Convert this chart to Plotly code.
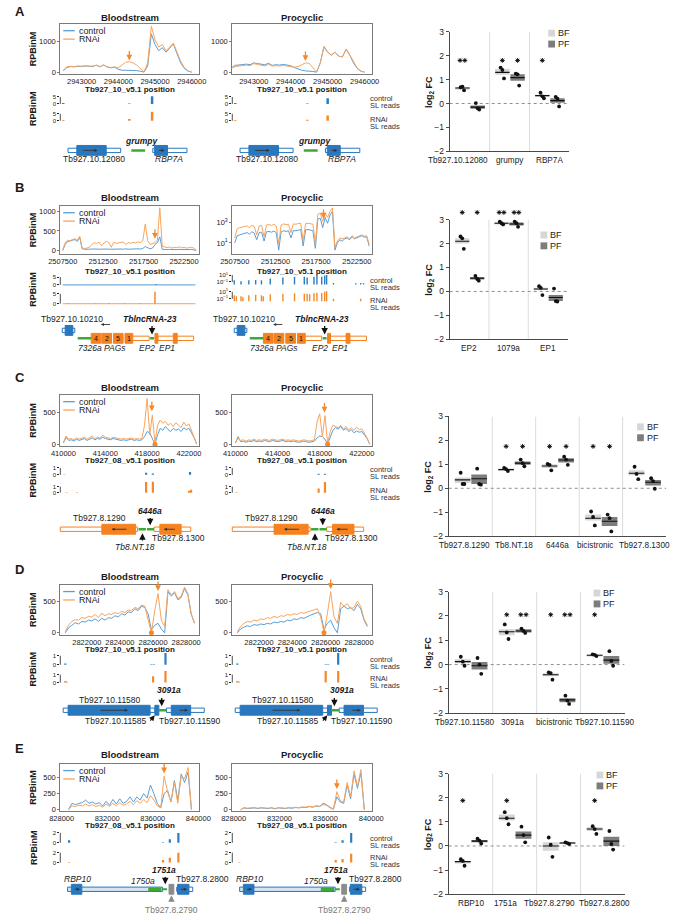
import plotly.graph_objects as go

W, H = 680, 920
FONT = "Arial, 'Liberation Sans', Helvetica, sans-serif"

C_LINE = "#5a9ed6"
O_LINE = "#f9a45c"
C_BAR = "#2b7cc0"
O_BAR = "#f5882a"
GENE_COL = {"b": "#2977bd", "o": "#f5821f", "g": "#8c8c8c"}
GREEN = "#3aa935"
BOXC = "#7a7a7a"
AXC = "#4a4a4a"
BF_COL = "#d6d6d6"
PF_COL = "#7d7d7d"
TXT = "#1a1a1a"

# ============================ DATA ============================
# ---------------- Panel A : grumpy locus ----------------
A_xticks = [2943000, 2944000, 2945000, 2946000]
A_yticks = [0, 1000]
A_BF_start, A_BF_step = 2942500, 100
A_BF_ctrl = [40, 150, 180, 170, 190, 180, 200, 190, 180, 230, 170, 240, 160, 140, 160, 90, 60, 60, 60, 50,
             50, 30, 0, 200, 1250, 900, 700, 800, 650, 780, 920, 600, 300, 120, 30, 0]
A_BF_rnai = [60, 170, 190, 180, 200, 190, 210, 190, 200, 220, 180, 230, 170, 150, 170, 140, 230, 320, 340, 300,
             230, 120, 10, 300, 1500, 1050, 820, 900, 700, 820, 950, 650, 350, 150, 40, 0]
A_PF_start, A_PF_step = 2942300, 100
A_PF_ctrl = [30, 150, 220, 230, 250, 260, 240, 300, 280, 260, 240, 290, 220, 240, 230, 250, 240, 210, 150, 100,
             60, 40, 40, 20, 0, 300, 820, 650, 550, 650, 520, 500, 740, 550, 300, 120, 30, 0]
A_PF_rnai = [40, 130, 180, 200, 210, 230, 210, 280, 250, 220, 200, 250, 200, 210, 200, 220, 200, 190, 160, 180,
             250, 300, 290, 150, 0, 300, 850, 660, 560, 660, 520, 500, 760, 560, 320, 130, 30, 0]
A_arrow_BF = (2944300, 380)
A_arrow_PF = (2944400, 360)
A_SL_BF_ctrl_x = [2942500, 2944300, 2944920]
A_SL_BF_ctrl_y = [0.6, 0.3, 5.5]
A_SL_BF_rnai_x = [2942500, 2944300, 2944920]
A_SL_BF_rnai_y = [0.6, 1.2, 6.5]
A_SL_PF_ctrl_x = [2942500, 2944450, 2945000]
A_SL_PF_ctrl_y = [0.6, 0.3, 4.0]
A_SL_PF_rnai_x = [2942500, 2944450, 2945000]
A_SL_PF_rnai_y = [0.5, 0.8, 3.8]
A_gene_boxes = [("utr", 2942630, 2944065, 0, "b"), ("cds", 2942870, 2943670, 0, "b"),
                ("utr", 2944940, 2945870, 0, "b"), ("cds", 2944990, 2945340, 0, "b")]
A_gene_nc = [(2944355, 2944730, 0, 2.5)]
A_gene_dirs = [(2943000, 2943430, 0), (2945070, 2945260, 0)]
A_gene_labels = [("Tb927.10.12080", 2943350, -9, "n"), ("RBP7A", 2945390, -9, "i"), ("grumpy", 2944640, 10, "bi")]
A_gene_pointers = []
A_cats = ["Tb927.10.12080", "grumpy", "RBP7A"]
A_BF_med = [0.65, 1.30, 0.33]
A_BF_lo = [0.61, 1.20, 0.30]
A_BF_hi = [0.69, 1.45, 0.37]
A_BF_pts = [[0.68, 0.70, 0.55], [1.50, 1.40, 1.05], [0.45, 0.30, 0.22]]
A_PF_med = [-0.15, 1.08, 0.12]
A_PF_lo = [-0.22, 0.95, 0.03]
A_PF_hi = [-0.08, 1.22, 0.22]
A_PF_pts = [[0.02, -0.20, -0.25], [1.25, 1.22, 0.75], [0.28, 0.20, -0.12]]
A_BF_sig = ["**", "*", "*"]
A_PF_sig = ["", "*", ""]
A_sig_y = 1.8

# ---------------- Panel B : TblncRNA-23 / EP locus ----------------
B_xticks = [2507500, 2512500, 2517500, 2522500]
B_yticks_BF = [0, 500, 1000]
B_yticks_PF = [10, 1000]
B_yticktext_PF = ["10<sup>1</sup>", "10<sup>3</sup>"]
B_start, B_step = 2507500, 300
B_BF_ctrl = [0, 150, 230, 240, 260, 280, 230, 340, 40, 30, 25, 30, 35, 30, 40, 30, 30, 35, 40, 30,
             30, 35, 30, 30, 35, 30, 40, 30, 35, 30, 30, 40, 35, 50, 100, 80, 40, 60, 150, 200,
             350, 30, 20, 20, 25, 20, 30, 20, 25, 20, 25, 20, 20, 25, 20, 0]
B_BF_rnai = [0, 200, 260, 250, 280, 300, 260, 360, 60, 50, 60, 80, 150, 200, 180, 210, 120, 190, 230, 200,
             80, 210, 180, 190, 200, 220, 150, 200, 180, 210, 190, 220, 200, 250, 680, 250, 150, 180, 200, 260,
             1100, 110, 80, 70, 90, 60, 80, 70, 90, 70, 80, 60, 70, 80, 60, 0]
B_PF_ctrl = [10, 50, 60, 70, 80, 100, 70, 120, 90, 20, 100, 110, 15, 120, 130, 110, 140, 100, 2, 120,
             150, 130, 150, 30, 160, 150, 170, 200, 5, 180, 200, 160, 150, 3, 2000, 2500, 300, 3000, 800, 5000,
             12000, 2, 10, 20, 15, 25, 30, 20, 40, 25, 30, 40, 50, 35, 40, 5]
B_PF_rnai = [30, 250, 300, 350, 400, 450, 300, 500, 400, 60, 450, 500, 40, 550, 600, 500, 650, 450, 8, 550,
             700, 600, 650, 100, 700, 650, 750, 800, 15, 750, 800, 700, 650, 8, 6000, 8000, 1200, 7000, 3000, 12000,
             25000, 4, 15, 30, 25, 30, 40, 25, 50, 30, 40, 50, 60, 45, 50, 8]
B_arrow_BF = (2518900, 300)
B_arrow_PF = (2518400, 3.35)   # log10 units (log axis)
B_SL_BF_span = [2507500, 2523900]
B_SL_BF_ctrl_x = [2519000]
B_SL_BF_ctrl_y = [0.4]
B_SL_BF_rnai_x = [2508200, 2511600, 2513200, 2515200, 2517000, 2518900]
B_SL_BF_rnai_y = [0.4, 0.3, 0.4, 0.3, 0.4, 6.0]
B_SL_PF_ctrl_x = [2507440, 2508270, 2509230, 2510070, 2510780, 2511860, 2513410, 2514840, 2516040, 2516390,
                  2517230, 2517590, 2518180, 2518540, 2518780, 2519620, 2522360, 2522960, 2523320]
B_SL_PF_ctrl_y = [0.3, 0.15, 0.3, 0.4, 0.3, 1, 2, 3, 3, 2, 3, 5, 3, 8, 10, 0.05, 0.04, 0.05, 0.04]
B_SL_PF_rnai_x = [2507440, 2507700, 2508270, 2508500, 2509230, 2510070, 2510780, 2511000, 2511860, 2513410,
                  2514840, 2516040, 2516390, 2516700, 2517230, 2517590, 2518180, 2518540, 2518780, 2519620, 2522960]
B_SL_PF_rnai_y = [1, 0.5, 0.5, 0.3, 1, 1.5, 1, 0.5, 2, 3, 4, 3, 3, 2, 4, 6, 5, 10, 15, 0.1, 0.1]
B_gene_boxes = [("utr", 2507440, 2508990, 8, "b"), ("cds", 2507800, 2508750, 8, "b"),
                ("cds", 2511020, 2512210, 0, "o"), ("cds", 2512330, 2513530, 0, "o"),
                ("cds", 2513770, 2514960, 0, "o"), ("cds", 2515200, 2516160, 0, "o"),
                ("utr", 2516160, 2518180, 0, "o"), ("utr", 2519260, 2523680, 0, "o"),
                ("cds", 2518900, 2519260, 0, "o"), ("cds", 2521170, 2521650, 0, "o")]
B_gene_nc = [(2509350, 2511020, 0, 2.5), (2518300, 2518780, 0, 2.5)]
B_gene_dirs = [(2513530, 2512210, 14)]
B_gene_labels = [("Tb927.10.10210", 2508690, 20, "n"), ("TblncRNA-23", 2518250, 20, "bi"),
                 ("7326a", 2510900, -10, "i"), ("PAGs", 2513900, -10, "i"), ("EP2", 2517950, -10, "i"),
                 ("EP1", 2520450, -10, "i"), ("4", 2511615, 0, "s"), ("2", 2512930, 0, "s"),
                 ("5", 2514365, 0, "s"), ("1", 2515680, 0, "s")]
B_gene_pointers = [(2518540, 14, 4, "k")]
B_cats = ["EP2", "1079a", "EP1"]
B_BF_med = [2.10, 2.85, 0.10]
B_BF_lo = [2.00, 2.80, 0.05]
B_BF_hi = [2.22, 2.90, 0.15]
B_BF_pts = [[2.30, 2.22, 1.78], [2.92, 2.85, 2.80], [0.22, 0.15, -0.15]]
B_PF_med = [0.55, 2.82, -0.25]
B_PF_lo = [0.50, 2.75, -0.40]
B_PF_hi = [0.60, 2.88, -0.15]
B_PF_pts = [[0.65, 0.52, 0.45], [2.92, 2.85, 2.70], [0.12, -0.40, -0.42]]
B_BF_sig = ["*", "**", ""]
B_PF_sig = ["*", "**", ""]
B_sig_y = 3.3

# ---------------- Panel C : 6446a locus ----------------
C_xticks = [410000, 414000, 418000, 422000]
C_yticks = [0, 500]
C_start, C_step = 410000, 250
C_BF_ctrl = [20, 110, 60, 70, 50, 80, 60, 70, 90, 60, 80, 100, 70, 90, 80, 110, 90, 80, 70, 90,
             80, 70, 60, 70, 60, 70, 80, 60, 70, 60, 70,
             120, 200, 180, 100, 0, 150, 250, 220, 280, 230, 200, 250, 220, 240, 200, 260, 230, 250, 180, 100, 0]
C_BF_rnai = [30, 130, 80, 90, 70, 100, 80, 90, 110, 80, 100, 130, 90, 110, 100, 140, 110, 100, 90, 110,
             100, 90, 80, 90, 80, 90, 100, 80, 90, 80, 90,
             300, 720, 150, 460, 20, 300, 380, 330, 360, 300, 330, 280, 340, 300, 260, 350, 290, 320, 220, 120, 0]
C_PF_ctrl = [20, 120, 40, 50, 30, 50, 40, 60, 40, 50, 40, 60, 50, 40, 60, 50, 40, 50, 60, 40,
             50, 40, 50, 40, 30, 40, 50, 40, 30, 40, 50,
             100, 130, 120, 80, 0, 100, 220, 260, 240, 280, 220, 250, 200, 230, 180, 210, 190, 200, 150, 90, 0]
C_PF_rnai = [30, 90, 60, 70, 50, 70, 60, 80, 60, 70, 60, 80, 70, 60, 80, 70, 60, 70, 80, 60,
             70, 60, 70, 60, 50, 60, 70, 60, 50, 60, 70,
             350, 480, 120, 450, 20, 200, 300, 280, 260, 300, 240, 280, 230, 260, 220, 270, 230, 240, 180, 100, 0]
C_arrow_BF = (418450, 520)
C_arrow_PF = (418450, 500)
C_dot = 418750
C_SL_BF_ctrl_x = [410100, 417900, 418550, 422100]
C_SL_BF_ctrl_y = [0.05, 0.3, 0.2, 0.4]
C_SL_BF_rnai_x = [410300, 411300, 417900, 418550, 422000, 422200]
C_SL_BF_rnai_y = [0.05, 0.05, 1.8, 2.0, 0.3, 0.5]
C_SL_PF_ctrl_x = [417900, 418500]
C_SL_PF_ctrl_y = [0.15, 0.15]
C_SL_PF_rnai_x = [410100, 417900, 418500]
C_SL_PF_rnai_y = [0.05, 0.7, 1.8]
C_gene_boxes = [("utr", 409700, 417090, 0, "o"), ("cds", 413670, 416900, 0, "o"),
                ("utr", 418660, 422170, 0, "o"), ("cds", 419220, 421250, 0, "o")]
C_gene_nc = [(417180, 417880, 0, 2.5), (417980, 418660, 0, 2.5)]
C_gene_dirs = [(416170, 414600, 0), (420790, 419590, 0)]
C_gene_labels = [("Tb927.8.1290", 413400, 11, "n"), ("6446a", 418290, 18, "bi"),
                 ("Tb927.8.1300", 420970, -9, "n"), ("Tb8.NT.18", 416810, -18, "i")]
C_gene_pointers = [(418290, 13, 4, "k"), (417550, -13, -4, "k")]
C_cats = ["Tb927.8.1290", "Tb8.NT.18", "6446a", "bicistronic", "Tb927.8.1300"]
C_BF_med = [0.35, 0.78, 0.93, -1.25, 0.63]
C_BF_lo = [0.22, 0.75, 0.85, -1.35, 0.55]
C_BF_hi = [0.45, 0.81, 1.00, -1.10, 0.75]
C_BF_pts = [[0.65, 0.18, 0.18], [0.85, 0.80, 0.72], [1.02, 0.98, 0.75], [-0.97, -1.20, -1.55], [0.90, 0.60, 0.38]]
C_PF_med = [0.40, 1.05, 1.18, -1.38, 0.25]
C_PF_lo = [0.18, 0.98, 1.08, -1.58, 0.12]
C_PF_hi = [0.58, 1.12, 1.25, -1.20, 0.35]
C_PF_pts = [[0.82, 0.18, 0.15], [1.20, 1.05, 0.92], [1.32, 1.20, 0.98], [-1.10, -1.25, -1.80], [0.42, 0.30, -0.02]]
C_BF_sig = ["", "*", "*", "*", ""]
C_PF_sig = ["", "*", "*", "*", ""]
C_sig_y = 1.75

# ---------------- Panel D : 3091a locus ----------------
D_xticks = [2822000, 2824000, 2826000, 2828000]
D_yticks = [0, 500]
D_start, D_step = 2820700, 200
D_BF_ctrl = [0, 80, 120, 160, 140, 180, 170, 200, 190, 220, 180, 230, 200, 240, 230, 270, 250, 300, 280, 330,
             320, 380, 350, 420, 400, 300, 50, 120, 150, 60, 0, 650, 580, 630, 520, 560, 700, 600, 300, 150]
D_BF_rnai = [20, 120, 180, 210, 200, 240, 230, 260, 250, 290, 240, 310, 270, 300, 290, 320, 300, 340, 320, 360,
             350, 400, 380, 440, 420, 200, 0, 350, 620, 200, 100, 680, 600, 650, 540, 580, 720, 620, 300, 160]
D_PF_ctrl = [0, 60, 90, 110, 100, 130, 120, 140, 130, 150, 140, 170, 160, 180, 170, 200, 190, 220, 210, 240,
             230, 260, 280, 300, 320, 300, 50, 150, 200, 80, 0, 380, 420, 380, 400, 350, 450, 380, 200, 100]
D_PF_rnai = [20, 100, 150, 180, 170, 200, 190, 220, 210, 240, 230, 260, 240, 270, 260, 290, 280, 300, 290, 320,
             310, 330, 350, 370, 380, 250, 0, 300, 650, 250, 150, 480, 420, 460, 380, 400, 500, 420, 220, 120]
D_arrow_BF = (2826300, 660)
D_arrow_PF = (2826300, 690)
D_dot = 2825900
D_SL_BF_ctrl_x = [2820700, 2825900, 2826050, 2826750]
D_SL_BF_ctrl_y = [0.15, 0.05, 0.05, 1.6]
D_SL_BF_rnai_x = [2820700, 2820800, 2826000, 2826750]
D_SL_BF_rnai_y = [0.2, 0.1, 0.8, 1.5]
D_SL_PF_ctrl_x = [2820700, 2826000, 2826150, 2826750]
D_SL_PF_ctrl_y = [0.15, 0.05, 0.05, 1.5]
D_SL_PF_rnai_x = [2820700, 2820800, 2826000, 2826750]
D_SL_PF_rnai_y = [0.2, 0.1, 1.5, 1.5]
D_gene_boxes = [("utr", 2820575, 2826110, 0, "b"), ("cds", 2820870, 2825820, 0, "b"),
                ("cds", 2826110, 2826350, 0, "b"), ("utr", 2826810, 2829090, 0, "b"),
                ("cds", 2827100, 2828270, 0, "b")]
D_gene_nc = [(2826350, 2826810, 0, 2.5)]
D_gene_dirs = [(2822730, 2824480, 0), (2827510, 2828100, 0)]
D_gene_labels = [("Tb927.10.11580", 2823430, 10, "n"), ("3091a", 2826990, 20, "bi"),
                 ("Tb927.10.11585", 2823750, -11, "n"), ("Tb927.10.11590", 2828200, -11, "n")]
D_gene_pointers = [(2826520, 14, 4, "k")]
D_gene_diag = [(2825760, -12, 2826100, -5)]
D_cats = ["Tb927.10.11580", "3091a", "bicistronic", "Tb927.10.11590"]
D_BF_med = [0.12, 1.35, -0.42, 0.38]
D_BF_lo = [0.05, 1.20, -0.48, 0.36]
D_BF_hi = [0.22, 1.45, -0.36, 0.40]
D_BF_pts = [[0.32, 0.12, -0.05], [1.65, 1.32, 1.05], [-0.32, -0.35, -0.62], [0.42, 0.40, 0.35]]
D_PF_med = [-0.05, 1.38, -1.45, 0.18]
D_PF_lo = [-0.20, 1.32, -1.55, 0.03]
D_PF_hi = [0.10, 1.45, -1.38, 0.35]
D_PF_pts = [[0.27, 0.00, -0.38], [1.48, 1.38, 1.30], [-1.28, -1.48, -1.62], [0.55, 0.15, -0.05]]
D_BF_sig = ["", "*", "*", "*"]
D_PF_sig = ["", "**", "**", ""]
D_sig_y = 2.05

# ---------------- Panel E : 1751a locus ----------------
E_xticks = [828000, 832000, 836000, 840000]
E_yticks = [0, 250, 500]
E_start, E_step = 828600, 300
E_BF_ctrl = [0, 100, 80, 90, 110, 150, 100, 120, 90, 110, 60, 130, 70, 160, 90, 170, 100, 130, 200, 120,
             200, 150, 250, 180, 380, 250, 100, 30, 250, 300, 120, 450, 150, 550, 420, 580, 0]
E_BF_rnai = [0, 60, 50, 70, 60, 90, 60, 80, 50, 70, 40, 90, 50, 100, 60, 110, 70, 90, 130, 80,
             140, 100, 160, 110, 220, 150, 60, 30, 520, 280, 120, 420, 100, 520, 480, 650, 0]
E_PF_ctrl = [0, 30, 20, 25, 30, 20, 30, 25, 20, 30, 15, 30, 25, 20, 30, 25, 35, 30, 40, 35,
             50, 40, 60, 50, 100, 80, 40, 10, 200, 120, 100, 380, 170, 550, 330, 570, 0]
E_PF_rnai = [0, 35, 25, 30, 35, 25, 35, 30, 25, 35, 20, 35, 30, 25, 35, 30, 40, 35, 45, 40,
             55, 45, 65, 55, 80, 70, 30, 10, 280, 140, 120, 420, 200, 600, 360, 620, 0]
E_arrow_BF = (837000, 560)
E_arrow_PF = (837000, 320)
E_SL_BF_ctrl_x = [828650, 836900, 837500, 838250]
E_SL_BF_ctrl_y = [0.5, 0.1, 0.7, 2.0]
E_SL_BF_rnai_x = [828650, 836900, 837500, 838250]
E_SL_BF_rnai_y = [0.1, 0.5, 1.0, 2.0]
E_SL_PF_ctrl_x = [836900, 837500, 838250]
E_SL_PF_ctrl_y = [0.1, 0.5, 2.0]
E_SL_PF_rnai_x = [828500, 836900, 837500, 838250]
E_SL_PF_rnai_y = [0.1, 0.5, 0.7, 1.8]
E_gene_boxes = [("utrl", 828520, 836850, 0, "b"), ("cds", 828850, 829770, 0, "b"),
                ("grey", 837430, 837850, 0, "g"), ("utr", 838100, 839510, 0, "b"),
                ("cds", 838180, 839180, 0, "b")]
E_gene_nc = [(835600, 836760, 0, 3.5), (836850, 837260, 0, 2)]
E_gene_dirs = [(829020, 829600, 0), (838350, 839010, 0)]
E_gene_labels = [("RBP10", 829350, 10, "i"), ("1750a", 835180, 8, "i"), ("1751a", 836950, 19, "bi"),
                 ("Tb927.8.2800", 840350, 10, "n"), ("Tb927.8.2790", 837640, -21, "g")]
E_gene_pointers = [(837100, 14, 5, "k"), (837640, -14, -6, "g")]
E_cats = ["RBP10", "1751a", "Tb927.8.2790", "Tb927.8.2800"]
E_BF_med = [-0.65, 1.15, 0.00, 0.70]
E_BF_lo = [-0.69, 1.05, -0.20, 0.62]
E_BF_hi = [-0.62, 1.30, 0.15, 0.78]
E_BF_pts = [[-0.55, -0.62, -0.82], [1.40, 1.15, 0.90], [0.35, 0.05, -0.45], [0.82, 0.70, 0.50]]
E_PF_med = [0.20, 0.45, 0.12, 0.20]
E_PF_lo = [0.15, 0.30, 0.10, 0.00]
E_PF_hi = [0.25, 0.60, 0.14, 0.38]
E_PF_pts = [[0.30, 0.22, 0.10], [0.80, 0.45, 0.15], [0.15, 0.12, 0.08], [0.62, 0.08, -0.15]]
E_BF_sig = ["*", "*", "", "*"]
E_PF_sig = ["", "", "", ""]
E_sig_y = 1.88

FC_ticks = [-2, -1, 0, 1, 2, 3]
FC_ticktext = ["\u22122", "\u22121", "0", "1", "2", "3"]

# ============================ LAYOUT GEOMETRY (pixels) ============================
BF_BOX = (50, 194)
PF_BOX = (228, 373)
JIT = [-0.045, 0.0, 0.04]

fig = go.Figure()
L = {}
ANN = []
SHP = []
cnt = [0]


def add_axes(xpx, ypx, xo, yo):
    cnt[0] += 1
    k = cnt[0]
    s = "" if k == 1 else str(k)
    L["xaxis" + s] = dict(domain=[max(0, xpx[0] / W), min(1, xpx[1] / W)], anchor="y" + s, **xo)
    L["yaxis" + s] = dict(domain=[max(0, 1 - ypx[1] / H), min(1, 1 - ypx[0] / H)], anchor="x" + s, **yo)
    return "x" + s, "y" + s


def add_text(px, py, s, size, color=TXT, xanchor="center", angle=0):
    ANN.append(dict(xref="paper", yref="paper", x=px / W, y=1 - py / H, text=s, showarrow=False,
                    font=dict(size=size, color=color, family=FONT), xanchor=xanchor, yanchor="middle",
                    textangle=angle))


def fmt(s, st):
    if st == "i":
        return "<i>%s</i>" % s
    if st == "bi":
        return "<b><i>%s</i></b>" % s
    return s


def coverage(box, top, bot, xr, xt, yr, yt, ytt, ylog, start, step, ctrl, rnai, arrow, dot):
    assert len(ctrl) == len(rnai), (len(ctrl), len(rnai))
    xo = dict(range=xr, showline=True, mirror=True, linecolor=BOXC, linewidth=1, ticks="",
              tickvals=xt, ticktext=[str(t) for t in xt], tickfont=dict(size=7.5, color=TXT),
              showgrid=False, zeroline=False)
    yo = dict(range=yr, type="log" if ylog else "linear", showline=True, mirror=True, linecolor=BOXC,
              linewidth=1, ticks="outside", ticklen=2, tickcolor=BOXC, tickvals=yt,
              ticktext=ytt if ytt else [str(t) for t in yt], tickfont=dict(size=7.5, color=TXT),
              showgrid=False, zeroline=False)
    xa, ya = add_axes(box, (top, bot), xo, yo)
    xs = [start + step * i for i in range(len(ctrl))]
    fig.add_trace(go.Scatter(x=xs, y=ctrl, xaxis=xa, yaxis=ya, mode="lines",
                             line=dict(color=C_LINE, width=1)))
    fig.add_trace(go.Scatter(x=xs, y=rnai, xaxis=xa, yaxis=ya, mode="lines",
                             line=dict(color=O_LINE, width=1)))
    ANN.append(dict(xref=xa, yref=ya, x=arrow[0], y=arrow[1], ax=0, ay=-11, showarrow=True, arrowhead=2,
                    arrowsize=0.9, arrowwidth=1.3, arrowcolor=O_BAR, text=""))
    if dot is not None:
        fig.add_trace(go.Scatter(x=[dot], y=[0], xaxis=xa, yaxis=ya, mode="markers", cliponaxis=False,
                                 marker=dict(color=O_BAR, size=5)))
    return xa, ya


def track(box, top, bot, lo, hi, xr, tv, tt, ylog, base, xs, ys, color, width, span=None):
    assert len(xs) == len(ys)
    xo = dict(range=xr, visible=False)
    yo = dict(range=[lo, hi], type="log" if ylog else "linear", showline=False, ticks="outside", ticklen=2,
              tickcolor="#222", tickwidth=0.8, tickvals=tv, ticktext=tt if tt else [str(t) for t in tv],
              tickfont=dict(size=6, color=TXT), showgrid=False, zeroline=False)
    xa, ya = add_axes(box, (top, bot), xo, yo)
    X, Y = [], []
    for x, y in zip(xs, ys):
        X += [x, x, None]
        Y += [base, y, None]
    if span:
        fig.add_trace(go.Scatter(x=span, y=[base, base], xaxis=xa, yaxis=ya, mode="lines",
                                 line=dict(color=color, width=0.8)))
    fig.add_trace(go.Scatter(x=X, y=Y, xaxis=xa, yaxis=ya, mode="lines", line=dict(color=color, width=width)))
    SHP.append(dict(type="line", xref=xa + " domain", yref=ya, x0=0, x1=0, y0=tv[0], y1=tv[-1],
                    line=dict(color="#222", width=0.8)))


def genes(box, xr, row, boxes, ncs, dirs, labels, pointers, diags):
    s = (xr[1] - xr[0]) / (box[1] - box[0])
    grange = [xr[0] - 14 * s, xr[1] + 22 * s]
    xa, ya = add_axes((box[0] - 14, box[1] + 22), (row - 26, row + 26),
                      dict(range=grange, visible=False), dict(range=[-26, 26], visible=False))
    for kind, a, b, dy, c in boxes:
        col = GENE_COL[c]
        if kind == "utr":
            h, fill = 2.2, "white"
        elif kind == "utrl":
            h, fill = 2.2, "#d4e4f3"
        else:
            h, fill = 5, col
        SHP.append(dict(type="rect", xref=xa, yref=ya, x0=a, x1=b, y0=dy - h, y1=dy + h, fillcolor=fill,
                        line=dict(color=col, width=1)))
    for a, b, dy, w in ncs:
        SHP.append(dict(type="line", xref=xa, yref=ya, x0=a, x1=b, y0=dy, y1=dy, line=dict(color=GREEN, width=w)))
    for a, b, dy in dirs:
        ANN.append(dict(xref=xa, yref=ya, axref=xa, ayref=ya, x=b, y=dy, ax=a, ay=dy, showarrow=True,
                        arrowhead=2, arrowsize=0.7, arrowwidth=0.9, arrowcolor="#333", text=""))
    for t, x, dy, st in labels:
        if st == "s":
            size, color = 7, "#111"
        elif st == "g":
            size, color = 8.5, "#777"
        else:
            size, color = 8.5, TXT
        ANN.append(dict(xref=xa, yref=ya, x=x, y=dy, text=fmt(t, st), showarrow=False,
                        font=dict(size=size, color=color, family=FONT), xanchor="center", yanchor="middle"))
    for x, tail, tip, c in pointers:
        ANN.append(dict(xref=xa, yref=ya, axref=xa, ayref=ya, x=x, y=tip, ax=x, ay=tail, showarrow=True,
                        arrowhead=2, arrowsize=1, arrowwidth=1.3, arrowcolor="#111" if c == "k" else "#8c8c8c",
                        text=""))
    for x0, y0, x1, y1 in diags:
        ANN.append(dict(xref=xa, yref=ya, axref=xa, ayref=ya, x=x1, y=y1, ax=x0, ay=y0, showarrow=True,
                        arrowhead=2, arrowsize=1, arrowwidth=1.1, arrowcolor="#111", text=""))


def chart(geo, leg, shift, cats, bmed, blo, bhi, bpts, pmed, plo, phi, ppts, bsig, psig, sig_y):
    x0, x1, top, bot = geo
    n = len(cats)
    xo = dict(range=[-0.5, n - 0.5], showline=True, linecolor=AXC, linewidth=1, ticks="",
              showticklabels=False, showgrid=False, zeroline=False)
    yo = dict(range=[-2, 3], showline=True, linecolor=AXC, linewidth=1, ticks="outside", ticklen=3,
              tickcolor=AXC, tickvals=FC_ticks, ticktext=FC_ticktext, tickfont=dict(size=8.5, color=TXT),
              showgrid=False, zeroline=False)
    xa, ya = add_axes((x0, x1), (top, bot), xo, yo)
    # category labels placed on the x scale, just below the axis
    for i, (cat, dx) in enumerate(zip(cats, shift)):
        ANN.append(dict(xref=xa, yref=ya, x=i + dx, y=-2, yshift=-9, text=cat, showarrow=False,
                        font=dict(size=8.2, color=TXT, family=FONT), xanchor="center", yanchor="middle"))
    # overlay axis with the same scale, extended upward, for significance stars
    ext = 24
    sa, sy = add_axes((x0, x1), (top - ext, bot), dict(range=[-0.5, n - 0.5], visible=False),
                      dict(range=[-2, 3 + ext * 5.0 / (bot - top)], visible=False))
    for i in range(n - 1):
        SHP.append(dict(type="line", xref=xa, yref=ya, x0=i + 0.5, x1=i + 0.5, y0=-2, y1=3, layer="below",
                        line=dict(color="#dcdcdc", width=1)))
    SHP.append(dict(type="line", xref=xa, yref=ya, x0=-0.5, x1=n - 0.5, y0=0, y1=0, layer="below",
                    line=dict(color="#909090", width=1, dash="dot")))
    for med, lo, hi, pts, sig, col, off in ((bmed, blo, bhi, bpts, bsig, BF_COL, -0.18),
                                            (pmed, plo, phi, ppts, psig, PF_COL, 0.2)):
        xs = [i + off for i in range(n)]
        fig.add_trace(go.Bar(x=xs, y=[h - l for h, l in zip(hi, lo)], base=lo, width=0.36, xaxis=xa, yaxis=ya,
                             marker=dict(color=col, line=dict(width=0))))
        MX, MY = [], []
        for x, m in zip(xs, med):
            MX += [x - 0.18, x + 0.18, None]
            MY += [m, m, None]
        fig.add_trace(go.Scatter(x=MX, y=MY, xaxis=xa, yaxis=ya, mode="lines", line=dict(color="#111", width=1.1)))
        PX, PY = [], []
        for x, p in zip(xs, pts):
            for j, v in enumerate(p):
                PX.append(x + JIT[j])
                PY.append(v)
        fig.add_trace(go.Scatter(x=PX, y=PY, xaxis=xa, yaxis=ya, mode="markers", cliponaxis=False,
                                 marker=dict(color="#111", size=3.8)))
        SX, SY = [], []
        for x, s in zip(xs, sig):
            k = len(s)
            for j in range(k):
                SX.append(x + (j - (k - 1) / 2.0) * 0.12)
                SY.append(sig_y)
        if SX:
            fig.add_trace(go.Scatter(x=SX, y=SY, xaxis=sa, yaxis=sy, mode="markers", cliponaxis=False,
                                     marker=dict(symbol="asterisk-open", size=4, color="#000",
                                                 line=dict(width=0.9, color="#000"))))
    add_text(x0 - 21, (top + bot) / 2, "<b>log<sub>2</sub> FC</b>", 9, angle=-90)
    lx, ly = leg
    for j, (lab, col) in enumerate((("BF", BF_COL), ("PF", PF_COL))):
        yy = ly + 11 * j
        SHP.append(dict(type="rect", xref="paper", yref="paper", x0=lx / W, x1=(lx + 7) / W,
                        y0=1 - (yy + 7) / H, y1=1 - yy / H, fillcolor=col, line=dict(width=0)))
        add_text(lx + 8, yy + 3.5, lab, 9, xanchor="left")


# ============================ PANEL TABLE ============================
SLGEO_A = [(90, 102, -1.43, 7.14), (106, 120, -2.14, 7.86)]
SLGEO_B_PF = [(270, 284, -2.14, 1.86), (287, 301, -2.14, 1.86)]
PANELS = [
    dict(letter="A", chrom="Tb927_10_v5.1 position", xr=[2942420, 2946210], xt=A_xticks,
         letter_y=7, title_y=13, box=(19, 70), xlab_y=85, row=147, sl_lab=(98.5, 119),
         chart=(453, 577, 27, 148), leg=(555, 25), shift=[-0.3, 0, 0],
         BF=dict(yr=[-70, 1580], yt=A_yticks, ytt=None, log=False, cov=(A_BF_start, A_BF_step, A_BF_ctrl, A_BF_rnai),
                 arrow=A_arrow_BF, dot=None, slgeo=SLGEO_A, tv=[0, 5], tt=None, sllog=False, base=0, span=None,
                 slc=(A_SL_BF_ctrl_x, A_SL_BF_ctrl_y), slr=(A_SL_BF_rnai_x, A_SL_BF_rnai_y), w=2.5),
         PF=dict(yr=[-70, 1580], yt=A_yticks, ytt=None, log=False, cov=(A_PF_start, A_PF_step, A_PF_ctrl, A_PF_rnai),
                 arrow=A_arrow_PF, dot=None, slgeo=SLGEO_A, tv=[0, 5], tt=None, sllog=False, base=0, span=None,
                 slc=(A_SL_PF_ctrl_x, A_SL_PF_ctrl_y), slr=(A_SL_PF_rnai_x, A_SL_PF_rnai_y), w=2.5),
         genes=(A_gene_boxes, A_gene_nc, A_gene_dirs, A_gene_labels, A_gene_pointers, []),
         fc=(A_cats, A_BF_med, A_BF_lo, A_BF_hi, A_BF_pts, A_PF_med, A_PF_lo, A_PF_hi, A_PF_pts,
             A_BF_sig, A_PF_sig, A_sig_y)),
    dict(letter="B", chrom="Tb927_10_v5.1 position", xr=[2507200, 2524400], xt=B_xticks,
         letter_y=185, title_y=195, box=(203, 252), xlab_y=269, row=337, sl_lab=(282, 302),
         chart=(453, 575, 217, 338), leg=(547, 229), shift=[0, 0, 0],
         BF=dict(yr=[-100, 1150], yt=B_yticks_BF, ytt=None, log=False, cov=(B_start, B_step, B_BF_ctrl, B_BF_rnai),
                 arrow=B_arrow_BF, dot=None, slgeo=[(271, 286, -1.9, 7.5), (289, 304, -1, 6.5)], tv=[0, 5],
                 tt=None, sllog=False, base=0, span=B_SL_BF_span,
                 slc=(B_SL_BF_ctrl_x, B_SL_BF_ctrl_y), slr=(B_SL_BF_rnai_x, B_SL_BF_rnai_y), w=1.5),
         PF=dict(yr=[-0.1, 4.6], yt=B_yticks_PF, ytt=B_yticktext_PF, log=True, cov=(B_start, B_step, B_PF_ctrl, B_PF_rnai),
                 arrow=B_arrow_PF, dot=None, slgeo=SLGEO_B_PF, tv=[0.1, 10],
                 tt=["10<sup>\u22121</sup>", "10<sup>1</sup>"], sllog=True, base=0.02, span=None,
                 slc=(B_SL_PF_ctrl_x, B_SL_PF_ctrl_y), slr=(B_SL_PF_rnai_x, B_SL_PF_rnai_y), w=1.4),
         genes=(B_gene_boxes, B_gene_nc, B_gene_dirs, B_gene_labels, B_gene_pointers, []),
         fc=(B_cats, B_BF_med, B_BF_lo, B_BF_hi, B_BF_pts, B_PF_med, B_PF_lo, B_PF_hi, B_PF_pts,
             B_BF_sig, B_PF_sig, B_sig_y)),
    dict(letter="C", chrom="Tb927_08_v5.1 position", xr=[409700, 423000], xt=C_xticks,
         letter_y=377, title_y=387, box=(394, 446), xlab_y=460, row=530, sl_lab=(473.5, 494.5),
         chart=(452, 677, 416, 537), leg=(647, 423), shift=[-0.13, 0, 0, -0.13, 0],
         BF=dict(yr=[-30, 780], yt=C_yticks, ytt=None, log=False, cov=(C_start, C_step, C_BF_ctrl, C_BF_rnai),
                 arrow=C_arrow_BF, dot=C_dot, slgeo=[(465, 478, -0.43, 1.43), (482, 496, -0.5, 1.83)], tv=[0, 1],
                 tt=None, sllog=False, base=0, span=None,
                 slc=(C_SL_BF_ctrl_x, C_SL_BF_ctrl_y), slr=(C_SL_BF_rnai_x, C_SL_BF_rnai_y), w=2.2),
         PF=dict(yr=[-30, 780], yt=C_yticks, ytt=None, log=False, cov=(C_start, C_step, C_PF_ctrl, C_PF_rnai),
                 arrow=C_arrow_PF, dot=C_dot, slgeo=[(465, 478, -0.43, 1.43), (482, 496, -0.5, 1.83)], tv=[0, 1],
                 tt=None, sllog=False, base=0, span=None,
                 slc=(C_SL_PF_ctrl_x, C_SL_PF_ctrl_y), slr=(C_SL_PF_rnai_x, C_SL_PF_rnai_y), w=2.2),
         genes=(C_gene_boxes, C_gene_nc, C_gene_dirs, C_gene_labels, C_gene_pointers, []),
         fc=(C_cats, C_BF_med, C_BF_lo, C_BF_hi, C_BF_pts, C_PF_med, C_PF_lo, C_PF_hi, C_PF_pts,
             C_BF_sig, C_PF_sig, C_sig_y)),
    dict(letter="D", chrom="Tb927_10_v5.1 position", xr=[2820400, 2828800], xt=D_xticks,
         letter_y=571, title_y=578, box=(586, 637), xlab_y=652, row=713, sl_lab=(665, 684),
         chart=(452, 634, 593, 716), leg=(602, 591), shift=[-0.15, -0.06, -0.1, 0.04],
         BF=dict(yr=[-35, 760], yt=D_yticks, ytt=None, log=False, cov=(D_start, D_step, D_BF_ctrl, D_BF_rnai),
                 arrow=D_arrow_BF, dot=D_dot, slgeo=[(655, 670, -0.33, 1.33), (673, 688, -0.375, 1.5)], tv=[0, 1],
                 tt=None, sllog=False, base=0, span=None,
                 slc=(D_SL_BF_ctrl_x, D_SL_BF_ctrl_y), slr=(D_SL_BF_rnai_x, D_SL_BF_rnai_y), w=2.2),
         PF=dict(yr=[-35, 760], yt=D_yticks, ytt=None, log=False, cov=(D_start, D_step, D_PF_ctrl, D_PF_rnai),
                 arrow=D_arrow_PF, dot=D_dot, slgeo=[(655, 670, -0.33, 1.33), (673, 688, -0.375, 1.5)], tv=[0, 1],
                 tt=None, sllog=False, base=0, span=None,
                 slc=(D_SL_PF_ctrl_x, D_SL_PF_ctrl_y), slr=(D_SL_PF_rnai_x, D_SL_PF_rnai_y), w=2.2),
         genes=(D_gene_boxes, D_gene_nc, D_gene_dirs, D_gene_labels, D_gene_pointers, D_gene_diag),
         fc=(D_cats, D_BF_med, D_BF_lo, D_BF_hi, D_BF_pts, D_PF_med, D_PF_lo, D_PF_hi, D_PF_pts,
             D_BF_sig, D_PF_sig, D_sig_y)),
    dict(letter="E", chrom="Tb927_08_v5.1 position", xr=[827880, 840100], xt=E_xticks,
         letter_y=752, title_y=758, box=(767, 815), xlab_y=830, row=894, sl_lab=(846, 865),
         chart=(452, 634, 777, 899), leg=(605, 775), shift=[0, -0.2, -0.2, 0.05],
         BF=dict(yr=[-20, 710], yt=E_yticks, ytt=None, log=False, cov=(E_start, E_step, E_BF_ctrl, E_BF_rnai),
                 arrow=E_arrow_BF, dot=None, slgeo=[(834, 850, -0.6, 2.6), (854, 870, -0.6, 2.6)], tv=[0, 2],
                 tt=None, sllog=False, base=0, span=None,
                 slc=(E_SL_BF_ctrl_x, E_SL_BF_ctrl_y), slr=(E_SL_BF_rnai_x, E_SL_BF_rnai_y), w=2.2),
         PF=dict(yr=[-20, 710], yt=E_yticks, ytt=None, log=False, cov=(E_start, E_step, E_PF_ctrl, E_PF_rnai),
                 arrow=E_arrow_PF, dot=None, slgeo=[(834, 850, -0.6, 2.6), (854, 870, -0.6, 2.6)], tv=[0, 2],
                 tt=None, sllog=False, base=0, span=None,
                 slc=(E_SL_PF_ctrl_x, E_SL_PF_ctrl_y), slr=(E_SL_PF_rnai_x, E_SL_PF_rnai_y), w=2.2),
         genes=(E_gene_boxes, E_gene_nc, E_gene_dirs, E_gene_labels, E_gene_pointers, []),
         fc=(E_cats, E_BF_med, E_BF_lo, E_BF_hi, E_BF_pts, E_PF_med, E_PF_lo, E_PF_hi, E_PF_pts,
             E_BF_sig, E_PF_sig, E_sig_y)),
]

for p in PANELS:
    top, bot = p["box"]
    add_text(1, p["letter_y"], "<b>%s</b>" % p["letter"], 13, xanchor="left")
    add_text(22, (top + bot) / 2, "<b>RPBinM</b>", 9, angle=-90)
    sl_top = p["BF"]["slgeo"][0][0]
    sl_bot = p["BF"]["slgeo"][1][1]
    add_text(22, (sl_top + sl_bot) / 2, "<b>RPBinM</b>", 9, angle=-90)
    for col, box, ttl in (("BF", BF_BOX, "Bloodstream"), ("PF", PF_BOX, "Procyclic")):
        c = p[col]
        st, sp, ctrl, rnai = c["cov"]
        coverage(box, top, bot, p["xr"], p["xt"], c["yr"], c["yt"], c["ytt"], c["log"], st, sp, ctrl, rnai,
                 c["arrow"], c["dot"])
        cx = (box[0] + box[1]) / 2
        add_text(cx, p["title_y"], "<b>%s</b>" % ttl, 9.5)
        add_text(cx, p["xlab_y"], "<b>%s</b>" % p["chrom"], 8)
        for (gt, gb, lo, hi), (xs, ys), colr, span in ((c["slgeo"][0], c["slc"], C_BAR, c["span"]),
                                                        (c["slgeo"][1], c["slr"], O_BAR, c["span"])):
            track(box, gt, gb, lo, hi, p["xr"], c["tv"], c["tt"], c["sllog"], c["base"], xs, ys, colr,
                  c["w"], span)
        genes(box, p["xr"], p["row"], *p["genes"])
    # coverage legend inside BF plot
    for j, (lab, colr) in enumerate((("control", C_LINE), ("RNAi", O_LINE))):
        yy = top + 7 + 8.5 * j
        SHP.append(dict(type="line", xref="paper", yref="paper", x0=53 / W, x1=65 / W, y0=1 - yy / H,
                        y1=1 - yy / H, line=dict(color=colr, width=1.3)))
        add_text(67, yy, lab, 8.8, xanchor="left")
    # SL reads labels
    for j, lab in enumerate(("control", "RNAi")):
        yc = p["sl_lab"][j]
        add_text(368, yc - 3.5, lab, 7.5, color="#333", xanchor="left")
        add_text(368, yc + 3.5, "SL reads", 7.5, color="#333", xanchor="left")
    chart(p["chart"], p["leg"], p["shift"], *p["fc"])

fig.update_layout(width=W, height=H, margin=dict(l=0, r=0, t=0, b=0), paper_bgcolor="white",
                  plot_bgcolor="rgba(0,0,0,0)", showlegend=False, barmode="overlay",
                  font=dict(family=FONT, color=TXT), annotations=ANN, shapes=SHP, **L)
fig.write_html("out.html")
